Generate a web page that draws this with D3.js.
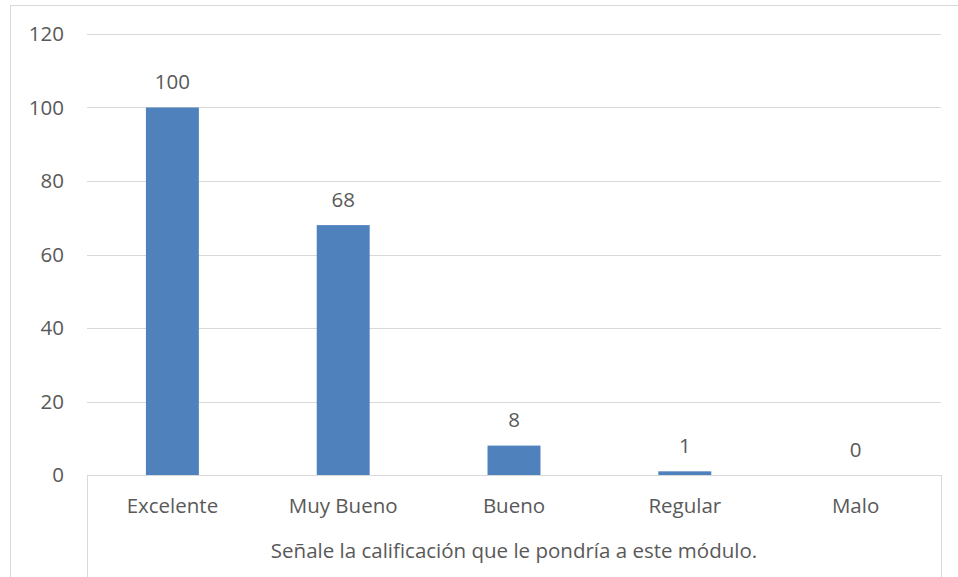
<!DOCTYPE html>
<html><head><meta charset="utf-8">
<script src="https://cdn.jsdelivr.net/npm/d3@7"></script>
<style>body{margin:0;background:#fff}svg{display:block}text{font-family:"Open Sans",sans-serif;fill:#595959}</style>
</head><body><svg id="c" width="958" height="577"></svg>
<script>
const categories = ["Excelente","Muy Bueno","Bueno","Regular","Malo"];
const values = [100,68,8,1,0];
const yTicks = [0,20,40,60,80,100,120];
const axisTitle = "Señale la calificación que le pondría a este módulo.";

(function(){
const svg = d3.select("#c");
const pL = 87, pR = 941, pT = 34, pB = 475;
const fs = 20.5;

svg.append("rect").attr("x",10.5).attr("y",5.5).attr("width",960).attr("height",600)
  .attr("fill","none").attr("stroke","#D9D9D9");

const x = d3.scaleBand().domain(categories).range([pL,pR]).padding(0);
const y = d3.scaleLinear().domain([0,120]).range([pB,pT]);
const bw = x.bandwidth()*0.31;

svg.append("g").selectAll("line").data(yTicks).join("line")
  .attr("x1",pL).attr("x2",pR)
  .attr("y1",d=>Math.round(y(d))+0.5).attr("y2",d=>Math.round(y(d))+0.5)
  .attr("stroke","#D9D9D9").attr("stroke-width",1);

svg.append("g").selectAll("text").data(yTicks).join("text")
  .attr("x",64).attr("y",d=>y(d)).attr("dy","0.35em")
  .attr("text-anchor","end").attr("font-size",fs).text(d=>d);

svg.append("g").selectAll("rect").data(values).join("rect")
  .attr("x",(d,i)=>x(categories[i])+x.bandwidth()/2-bw/2)
  .attr("width",bw)
  .attr("y",d=>y(d)).attr("height",d=>pB-y(d))
  .attr("fill","#4F81BD");

svg.append("g").selectAll("text").data(values).join("text")
  .attr("x",(d,i)=>x(categories[i])+x.bandwidth()/2)
  .attr("y",d=>y(d)-18.5)
  .attr("text-anchor","middle").attr("font-size",fs).text(d=>d);

svg.append("line").attr("x1",pL+0.5).attr("x2",pL+0.5).attr("y1",pB).attr("y2",577).attr("stroke","#D9D9D9");
svg.append("line").attr("x1",pR+0.5).attr("x2",pR+0.5).attr("y1",pB).attr("y2",577).attr("stroke","#D9D9D9");

svg.append("g").selectAll("text").data(categories).join("text")
  .attr("x",d=>x(d)+x.bandwidth()/2).attr("y",513)
  .attr("text-anchor","middle").attr("font-size",fs).text(d=>d);

svg.append("text").attr("x",(pL+pR)/2).attr("y",558)
  .attr("text-anchor","middle").attr("font-size",fs).text(axisTitle);
})();
</script></body></html>
